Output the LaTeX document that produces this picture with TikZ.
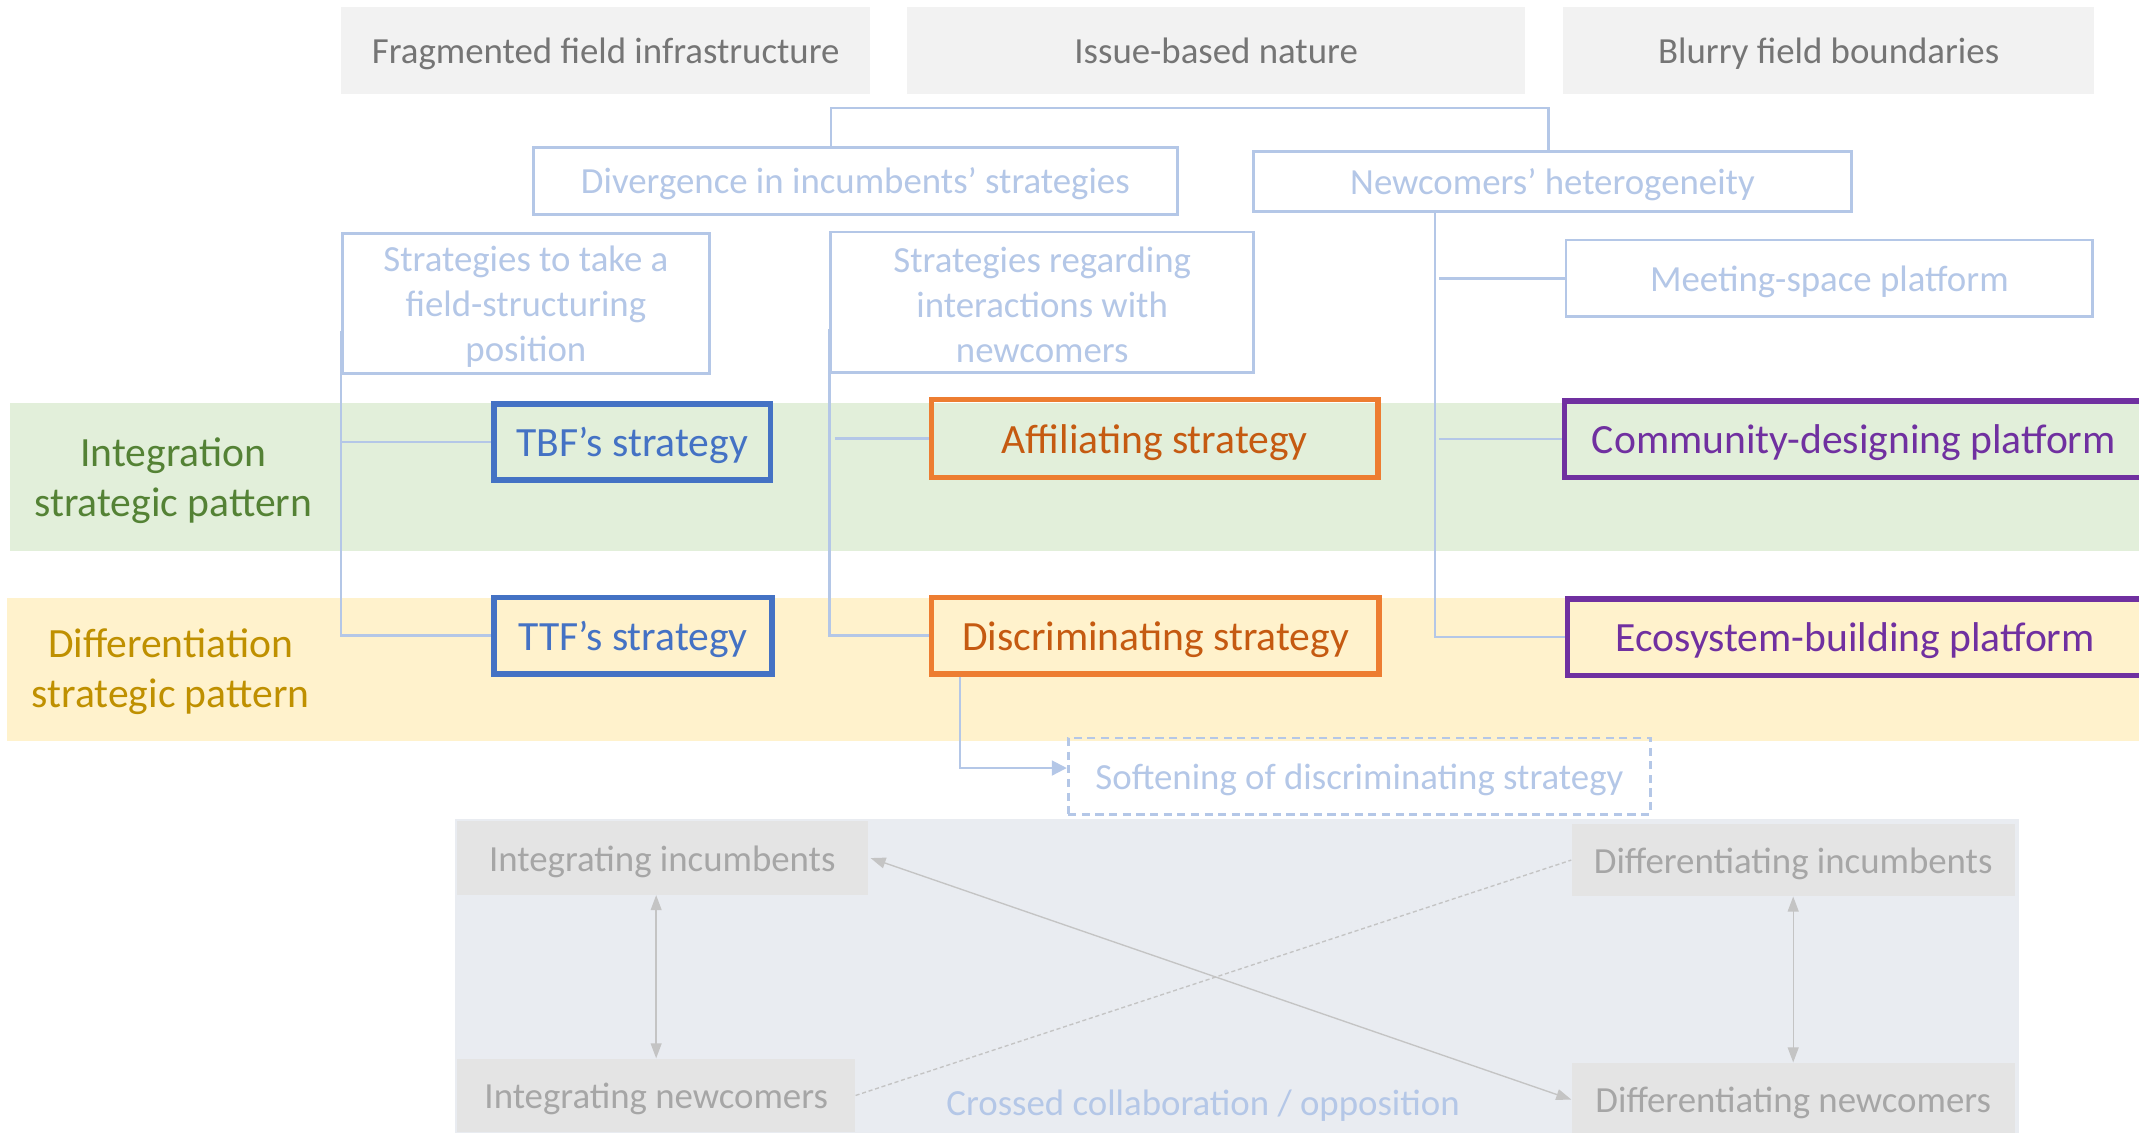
\documentclass[tikz,border=0pt]{standalone}
\usepackage{fontspec}
\setmainfont{Carlito}
\usetikzlibrary{arrows.meta}
\definecolor{lblue}{HTML}{B4C7E7}
\definecolor{topgrey}{HTML}{F2F2F2}
\definecolor{toptext}{HTML}{757575}
\definecolor{bandgreen}{HTML}{E2EFDA}
\definecolor{bandyellow}{HTML}{FFF2CC}
\definecolor{intgreen}{HTML}{548235}
\definecolor{difgold}{HTML}{BF9000}
\definecolor{sblue}{HTML}{4472C4}
\definecolor{sorange}{HTML}{ED7D31}
\definecolor{sorangetext}{HTML}{C55A11}
\definecolor{spurple}{HTML}{7030A0}
\definecolor{panelgrey}{HTML}{E9ECF1}
\definecolor{boxgrey}{HTML}{E4E4E4}
\definecolor{boxtext}{HTML}{A6A6A6}
\definecolor{arrgrey}{HTML}{C4C4C4}
\tikzset{
  txt/.style={font=\fontsize{27}{33}\selectfont},
  big/.style={font=\fontsize{30.5}{37}\selectfont},
  onetxt/.style={text height=21pt, text depth=2pt},
  onebig/.style={text height=23.5pt, text depth=2pt},
  topbox/.style={fill=topgrey, text=toptext, inner sep=0pt, txt, onetxt},
  lbox/.style={draw=lblue, line width=2pt, text=lblue, fill=white, inner sep=0pt, align=center, txt},
  sbox/.style={line width=4pt, inner sep=0pt, big, onebig},
  band/.style={inner sep=0pt, anchor=north west},
  gbox/.style={fill=boxgrey, text=boxtext, inner sep=0pt, txt, onetxt},
  conn/.style={draw=lblue, line width=1.8pt},
  garr/.style={draw=arrgrey, line width=1pt, {Triangle[length=11pt,width=8pt]}-{Triangle[length=11pt,width=8pt]}}
}
\begin{document}
\begin{tikzpicture}[x=1pt,y=-1pt]
\useasboundingbox (0,0) rectangle (1568,830);
% bands and panel
\node[band, fill=bandgreen, minimum width=1561pt, minimum height=109pt] (gband) at (7,295) {};
\node[band, fill=bandyellow, minimum width=1563pt, minimum height=105pt] (yband) at (5,438) {};
\node[band, fill=panelgrey, minimum width=1147pt, minimum height=240pt] (panel) at (333,600) {};
% pattern labels
\node[big, text=intgreen, align=center] (intlab) at (127,352.5) {Integration\\strategic pattern};
\node[big, text=difgold, align=center] (diflab) at (125,492.5) {Differentiation\\strategic pattern};
% top boxes
\node[topbox, minimum width=388pt, minimum height=64pt] (f1) at (444,37) {Fragmented field infrastructure};
\node[topbox, minimum width=453pt, minimum height=64pt] (f2) at (891.5,37) {Issue-based nature};
\node[topbox, minimum width=389pt, minimum height=64pt] (f3) at (1340.5,37) {Blurry field boundaries};
% light blue boxes
\node[lbox, onetxt, minimum width=472pt, minimum height=49pt] (div) at (627,132.5) {Divergence in incumbents’ strategies};
\node[lbox, onetxt, minimum width=438pt, minimum height=44pt] (newc) at (1138,133) {Newcomers’ heterogeneity};
\node[lbox, minimum width=269pt, minimum height=103pt] (s1) at (385.5,222.5) {};
\node[txt, text=lblue, align=center, inner sep=0pt] (s1t) at (385.5,224.5) {Strategies to take a\\field-structuring\\position};
\node[lbox, minimum width=310pt, minimum height=103pt] (s2) at (764,221.5) {};
\node[txt, text=lblue, align=center, inner sep=0pt] (s2t) at (764,223.5) {Strategies regarding\\interactions with\\newcomers};
\node[lbox, onetxt, minimum width=386pt, minimum height=56pt] (meet) at (1341,204) {Meeting-space platform};
% strategy boxes
\node[sbox, draw=sblue, text=sblue, minimum width=203pt, minimum height=56pt] (tbf) at (463.5,324) {TBF’s strategy};
\node[sbox, draw=sblue, text=sblue, minimum width=204pt, minimum height=56pt] (ttf) at (464,466) {TTF’s strategy};
\node[sbox, draw=sorange, text=sorangetext, minimum width=327pt, minimum height=57pt] (aff) at (846.5,321.5) {Affiliating strategy};
\node[sbox, draw=sorange, text=sorangetext, minimum width=328pt, minimum height=56pt] (disc) at (847,466) {Discriminating strategy};
\node[sbox, draw=spurple, text=spurple, minimum width=424pt, minimum height=56pt] (comm) at (1359,322) {Community-designing platform};
\node[sbox, draw=spurple, text=spurple, minimum width=422pt, minimum height=56pt] (eco) at (1360,467) {Ecosystem-building platform};
% softening
\node[draw=lblue, dash pattern=on 6pt off 4pt, line width=2pt, text=lblue, inner sep=0pt, txt, onetxt, minimum width=427pt, minimum height=56pt] (soft) at (996.5,569) {Softening of discriminating strategy};
% bottom boxes
\node[gbox, minimum width=301pt, minimum height=54pt] (ii) at (485.5,629) {Integrating incumbents};
\node[gbox, minimum width=325pt, minimum height=53pt] (di) at (1314.5,630.5) {Differentiating incumbents};
\node[gbox, minimum width=292pt, minimum height=54pt] (in) at (481,803) {Integrating newcomers};
\node[gbox, minimum width=325pt, minimum height=54pt] (dn) at (1314.5,806) {Differentiating newcomers};
\node[txt, onetxt, text=lblue] (cross) at (882,808) {Crossed collaboration / opposition};
% connectors top
\draw[conn] ([xshift=-18pt]div.north) -- ++(0,-28) -| ([xshift=-3pt]newc.north);
% left tree
\draw[conn] ([yshift=-20pt]s1.west) -- (s1.west |- ttf.west) -- (ttf.west);
\draw[conn] (s1.west |- tbf.west) -- (tbf.west);
% middle tree
\draw[conn] ([yshift=-20pt]s2.west) -- (s2.west |- disc.west) -- (disc.west);
\draw[conn] ([xshift=4pt]s2.west |- aff.west) -- (aff.west);
% right tree
\coordinate (rt) at ([xshift=-86pt]newc.south);
\draw[conn] (rt) -- (rt |- eco.west) -- (eco.west);
\draw[conn] ([xshift=3pt]rt |- meet.west) -- (meet.west);
\draw[conn] ([xshift=3pt]rt |- comm.west) -- (comm.west);
% softening arrow
\draw[draw=lblue, line width=1.5pt, -{Triangle[length=11pt,width=11pt]}] ([xshift=23pt]disc.south west) |- ([yshift=6pt]soft.west);
% bottom arrows
\draw[garr] (in.north |- ii.south) -- (in.north);
\draw[garr] (di.south) -- (di.south |- dn.north);
\draw[garr] ([xshift=2pt]ii.east) -- (dn.west);
\draw[draw=arrgrey, line width=1pt, dash pattern=on 3pt off 2pt] (in.east) -- (di.west);
\end{tikzpicture}
\end{document}
